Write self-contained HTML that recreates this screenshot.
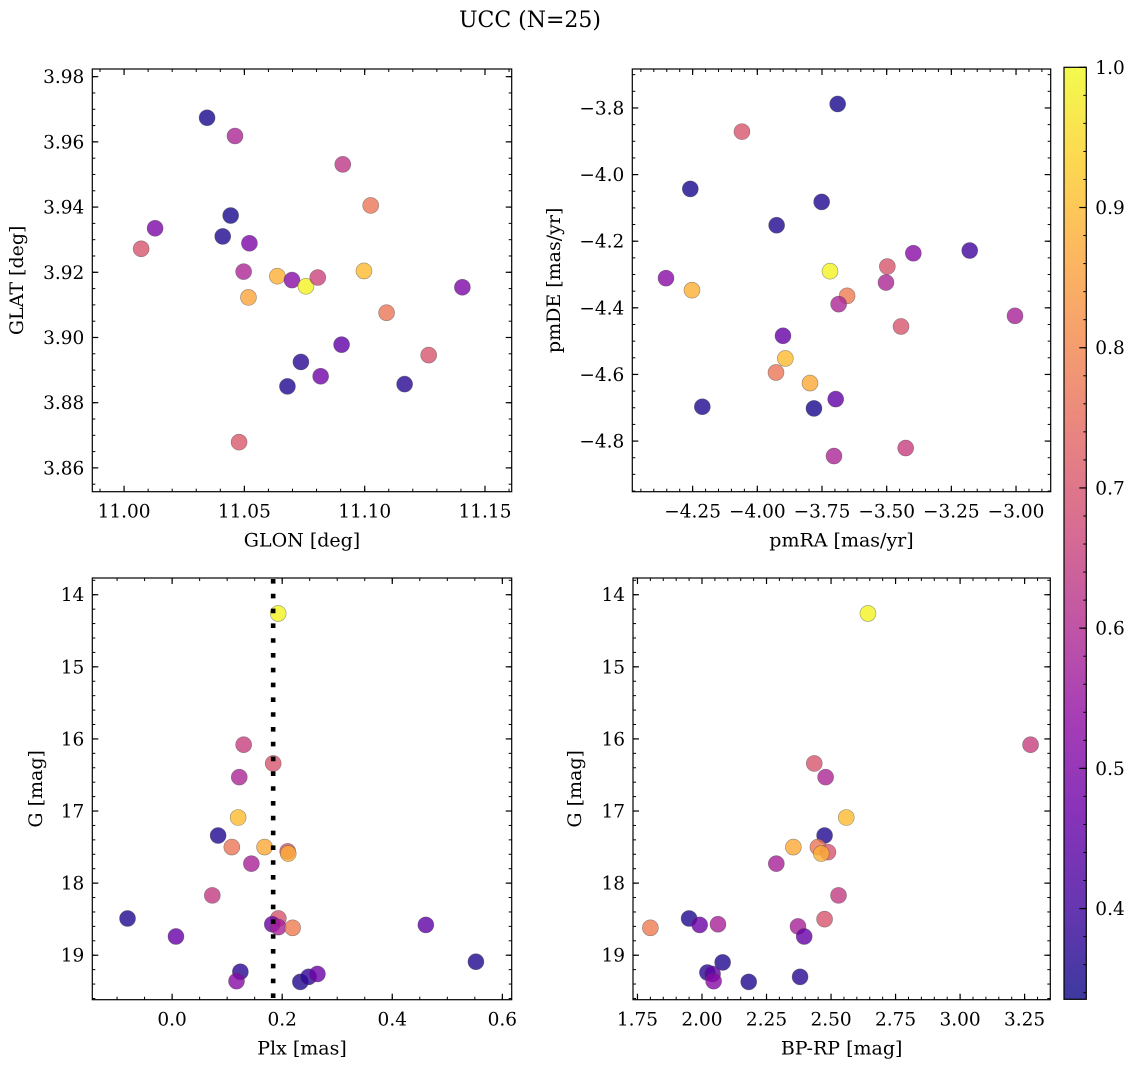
<!DOCTYPE html>
<html><head><meta charset="utf-8"><style>
html,body{margin:0;padding:0;background:#fff;}
svg{display:block;font-family:"DejaVu Serif","Liberation Serif",serif;}
</style></head><body>
<svg id="fig" width="1136" height="1067" viewBox="0 0 1136 1067" xmlns="http://www.w3.org/2000/svg">
<text x="530" y="27" text-anchor="middle" font-size="22">UCC (N=25)</text>
</svg>
<script>
// ---- Panel 1: GLON vs GLAT ----
const p1X = [11.0345,11.0461,11.0909,11.1025,11.0129,11.0443,11.0410,11.0521,11.0071,11.0497,11.0637,11.0698,11.0756,11.0805,11.0997,11.0517,11.1406,11.1091,11.0904,11.0735,11.1266,11.0817,11.0679,11.1166,11.0478];
const p1Y = [3.9674,3.9618,3.9531,3.9405,3.9335,3.9374,3.9310,3.9289,3.9272,3.9202,3.9188,3.9176,3.9157,3.9184,3.9204,3.9123,3.9154,3.9076,3.8978,3.8925,3.8946,3.8881,3.8850,3.8857,3.8679];
const p1C = [0.35,0.59,0.63,0.77,0.50,0.35,0.36,0.50,0.70,0.59,0.88,0.52,0.99,0.66,0.90,0.86,0.50,0.77,0.45,0.37,0.70,0.48,0.36,0.37,0.71];
const p1XTicks = [11.00,11.05,11.10,11.15];
const p1XLabels = ["11.00","11.05","11.10","11.15"];
const p1YTicks = [3.86,3.88,3.90,3.92,3.94,3.96,3.98];
const p1YLabels = ["3.86","3.88","3.90","3.92","3.94","3.96","3.98"];
// ---- Panel 2: pmRA vs pmDE ----
const p2X = [-3.6894,-4.0593,-4.259,-3.7513,-3.9253,-3.179,-3.397,-3.719,-3.4974,-4.353,-4.2526,-3.653,-3.5026,-3.6856,-3.004,-3.4446,-3.9008,-3.8918,-3.9278,-3.7964,-4.2126,-3.781,-3.697,-3.7036,-3.4265];
const p2Y = [-3.788,-3.871,-4.043,-4.082,-4.152,-4.228,-4.236,-4.290,-4.276,-4.311,-4.347,-4.364,-4.324,-4.389,-4.424,-4.456,-4.484,-4.552,-4.594,-4.626,-4.697,-4.702,-4.674,-4.845,-4.821];
const p2C = [0.35,0.70,0.35,0.36,0.36,0.40,0.52,0.99,0.70,0.52,0.88,0.78,0.59,0.59,0.58,0.70,0.46,0.90,0.77,0.87,0.36,0.35,0.45,0.59,0.65];
const p2XTicks = [-4.25,-4.00,-3.75,-3.50,-3.25,-3.00];
const p2XLabels = ["\u22124.25","\u22124.00","\u22123.75","\u22123.50","\u22123.25","\u22123.00"];
const p2YTicks = [-4.8,-4.6,-4.4,-4.2,-4.0,-3.8];
const p2YLabels = ["\u22124.8","\u22124.6","\u22124.4","\u22124.2","\u22124.0","\u22123.8"];
// ---- Panel 3: Plx vs G ----
const p3X = [0.1927,0.130,0.1836,0.122,0.120,0.0836,0.1085,0.168,0.210,0.211,0.144,0.073,-0.081,0.193,0.182,0.193,0.219,0.461,0.007,0.552,0.124,0.117,0.233,0.248,0.264];
const p3Y = [14.26,16.08,16.34,16.53,17.09,17.34,17.50,17.50,17.56,17.59,17.73,18.17,18.49,18.49,18.57,18.61,18.62,18.58,18.74,19.09,19.23,19.36,19.37,19.30,19.26];
const p3C = [0.99,0.65,0.70,0.59,0.90,0.36,0.77,0.87,0.70,0.88,0.58,0.64,0.36,0.70,0.47,0.58,0.78,0.45,0.46,0.36,0.37,0.52,0.36,0.38,0.47];
const p3XTicks = [0.0,0.2,0.4,0.6];
const p3XLabels = ["0.0","0.2","0.4","0.6"];
const p3YTicks = [14,15,16,17,18,19];
const p3YLabels = ["14","15","16","17","18","19"];
const plxRef = [0.1836];
// ---- Panel 4: BP-RP vs G ----
const p4X = [2.643,3.273,2.435,2.479,2.559,2.475,2.449,2.354,2.488,2.462,2.288,2.529,1.950,2.475,1.991,2.062,1.800,2.372,2.396,2.080,2.021,2.041,2.045,2.181,2.380];
const p4Y = [14.26,16.08,16.34,16.53,17.09,17.34,17.50,17.50,17.57,17.59,17.73,18.17,18.49,18.50,18.58,18.57,18.62,18.60,18.74,19.10,19.24,19.26,19.36,19.37,19.30];
const p4C = [0.99,0.65,0.70,0.59,0.90,0.36,0.77,0.87,0.70,0.88,0.58,0.64,0.36,0.70,0.47,0.58,0.78,0.58,0.46,0.36,0.37,0.45,0.52,0.36,0.37];
const p4XTicks = [1.75,2.00,2.25,2.50,2.75,3.00,3.25];
const p4XLabels = ["1.75","2.00","2.25","2.50","2.75","3.00","3.25"];
const p4YTicks = [14,15,16,17,18,19];
const p4YLabels = ["14","15","16","17","18","19"];
// ---- Colorbar ----
const cbTicks = [0.4,0.5,0.6,0.7,0.8,0.9,1.0];
const cbLabels = ["0.4","0.5","0.6","0.7","0.8","0.9","1.0"];
const cMin = 0.3353, cMax = 1.0;

const NS = "http://www.w3.org/2000/svg";
const svg = document.getElementById("fig");
const FS = 18.5, FT = 19;
const plasma = ["#0d0887","#41049d","#6a00a8","#8f0da4","#b12a90","#cc4778","#e16462","#f2844b","#fca636","#fcce25","#f0f921"];
function hex(h){return [parseInt(h.substr(1,2),16),parseInt(h.substr(3,2),16),parseInt(h.substr(5,2),16)];}
function cmap(v){
  let t=(v-cMin)/(cMax-cMin); t=Math.max(0,Math.min(1,t));
  const f=t*10, i=Math.min(9,Math.floor(f)), r=f-i;
  const a=hex(plasma[i]), b=hex(plasma[i+1]);
  return "rgb("+a.map((x,k)=>Math.round(x+(b[k]-x)*r)).join(",")+")";
}
function mk(tag){return document.createElementNS(NS,tag);}
function line(g,x1,y1,x2,y2,w){const l=mk("line");l.setAttribute("x1",x1);l.setAttribute("y1",y1);l.setAttribute("x2",x2);l.setAttribute("y2",y2);l.setAttribute("stroke","#000");l.setAttribute("stroke-width",w);g.appendChild(l);return l;}
function txt(g,x,y,s,anchor,size){const t=mk("text");t.setAttribute("x",x);t.setAttribute("y",y);t.setAttribute("text-anchor",anchor);t.setAttribute("font-size",size);t.textContent=s;g.appendChild(t);return t;}

function panel(name,box,xd,yd,yInv,xs,ys,cs,xt,xl,yt,yl,xMinor,yMinor,xTitle,yTitle,yTitleX){
  const g=mk("g");
  
  
  svg.appendChild(g);
  const sx=v=>box.l+(v-xd[0])/(xd[1]-xd[0])*(box.r-box.l);
  const sy=v=>yInv? box.t+(v-yd[0])/(yd[1]-yd[0])*(box.b-box.t) : box.b-(v-yd[0])/(yd[1]-yd[0])*(box.b-box.t);
  const pts=mk("g");
  
  
  g.appendChild(pts);
  for(let i=0;i<xs.length;i++){
    const c=mk("circle");
    c.setAttribute("cx",sx(xs[i]).toFixed(2));
    c.setAttribute("cy",sy(ys[i]).toFixed(2));
    c.setAttribute("r",8);
    c.setAttribute("fill",cmap(cs[i]));
    c.setAttribute("fill-opacity",0.8);
    c.setAttribute("stroke","rgba(70,70,70,0.55)");
    c.setAttribute("stroke-width",0.6);
    
    
    pts.appendChild(c);
  }
  const ax=mk("g");
  
  
  g.appendChild(ax);
  for(let v=Math.ceil(xd[0]/xMinor)*xMinor; v<=xd[1]; v+=xMinor){const X=sx(v);line(ax,X,box.b,X,box.b-3,1);line(ax,X,box.t,X,box.t+3,1);}
  for(let v=Math.ceil(yd[0]/yMinor)*yMinor; v<=yd[1]; v+=yMinor){const Y=sy(v);line(ax,box.l,Y,box.l+3,Y,1);line(ax,box.r,Y,box.r-3,Y,1);}
  xt.forEach((v,i)=>{const X=sx(v);line(ax,X,box.b,X,box.b-6,1.2);line(ax,X,box.t,X,box.t+6,1.2);
    const t=txt(ax,X,box.b+26,xl[i],"middle",FS);
    
    });
  yt.forEach((v,i)=>{const Y=sy(v);line(ax,box.l,Y,box.l+6,Y,1.2);line(ax,box.r,Y,box.r-6,Y,1.2);
    const t=txt(ax,box.l-8,Y+6.5,yl[i],"end",FS);
    
    });
  const fr=mk("rect");fr.setAttribute("x",box.l);fr.setAttribute("y",box.t);fr.setAttribute("width",box.r-box.l);fr.setAttribute("height",box.b-box.t);
  fr.setAttribute("fill","none");fr.setAttribute("stroke","#000");fr.setAttribute("stroke-width",1.2);
  
  
  ax.appendChild(fr);
  const xtl=txt(g,(box.l+box.r)/2,box.b+55,xTitle,"middle",FT);
  
  
  const cy=(box.t+box.b)/2;
  const ytl=txt(g,yTitleX,cy,yTitle,"middle",FT);
  ytl.setAttribute("transform","rotate(-90 "+yTitleX+" "+cy+")");
  
  
  return {g,sx,sy};
}

panel("glon-glat-panel",{l:92.3,r:511.7,t:69,b:491.7},[10.9868,11.1611],[3.8527,3.98235],false,
  p1X,p1Y,p1C,p1XTicks,p1XLabels,p1YTicks,p1YLabels,0.01,0.005,"GLON [deg]","GLAT [deg]",23);
panel("pm-panel",{l:632.3,r:1050.7,t:69,b:491.7},[-4.4832,-2.866],[-4.952,-3.683],false,
  p2X,p2Y,p2C,p2XTicks,p2XLabels,p2YTicks,p2YLabels,0.05,0.05,"pmRA [mas/yr]","pmDE [mas/yr]",560);
const P3=panel("plx-g-panel",{l:92.3,r:511.7,t:578,b:999.7},[-0.145,0.617],[13.768,19.617],true,
  p3X,p3Y,p3C,p3XTicks,p3XLabels,p3YTicks,p3YLabels,0.05,0.2,"Plx [mas]","G [mag]",42);
panel("cmd-panel",{l:633,r:1050.3,t:578,b:999.7},[1.7327,3.3495],[13.768,19.617],true,
  p4X,p4Y,p4C,p4XTicks,p4XLabels,p4YTicks,p4YLabels,0.05,0.2,"BP-RP [mag]","G [mag]",581);

plxRef.forEach(v=>{
  const X=P3.sx(v);
  const l=line(P3.g,X,579,X,999,4.6);
  l.setAttribute("stroke-dasharray","4.6 10.2");
  
  
});

(function(){
  const cb={l:1064,r:1086.3,t:67.3,b:999.3};
  const g=mk("g");
  
  
  svg.appendChild(g);
  const defs=mk("defs");const lg=mk("linearGradient");lg.setAttribute("id","cbg");
  lg.setAttribute("x1","0");lg.setAttribute("y1","1");lg.setAttribute("x2","0");lg.setAttribute("y2","0");
  for(let k=0;k<=20;k++){const v=cMin+(cMax-cMin)*k/20;const s=mk("stop");s.setAttribute("offset",(k/20));s.setAttribute("stop-color",cmap(v));s.setAttribute("stop-opacity",0.8);lg.appendChild(s);}
  defs.appendChild(lg);g.appendChild(defs);
  const r=mk("rect");r.setAttribute("x",cb.l);r.setAttribute("y",cb.t);r.setAttribute("width",cb.r-cb.l);r.setAttribute("height",cb.b-cb.t);
  r.setAttribute("fill","url(#cbg)");r.setAttribute("stroke","#000");r.setAttribute("stroke-width",1.2);
  
  
  g.appendChild(r);
  const sy=v=>cb.b-(v-cMin)/(cMax-cMin)*(cb.b-cb.t);
  for(let v=0.34;v<=1.0001;v+=0.02){line(g,cb.r,sy(v),cb.r-3,sy(v),1);}
  cbTicks.forEach((v,i)=>{const Y=sy(v);line(g,cb.r,Y,cb.r-7,Y,1.2);
    const t=txt(g,cb.r+9,Y+6.5,cbLabels[i],"start",FS);
    
    });
})();
</script>
</body></html>
